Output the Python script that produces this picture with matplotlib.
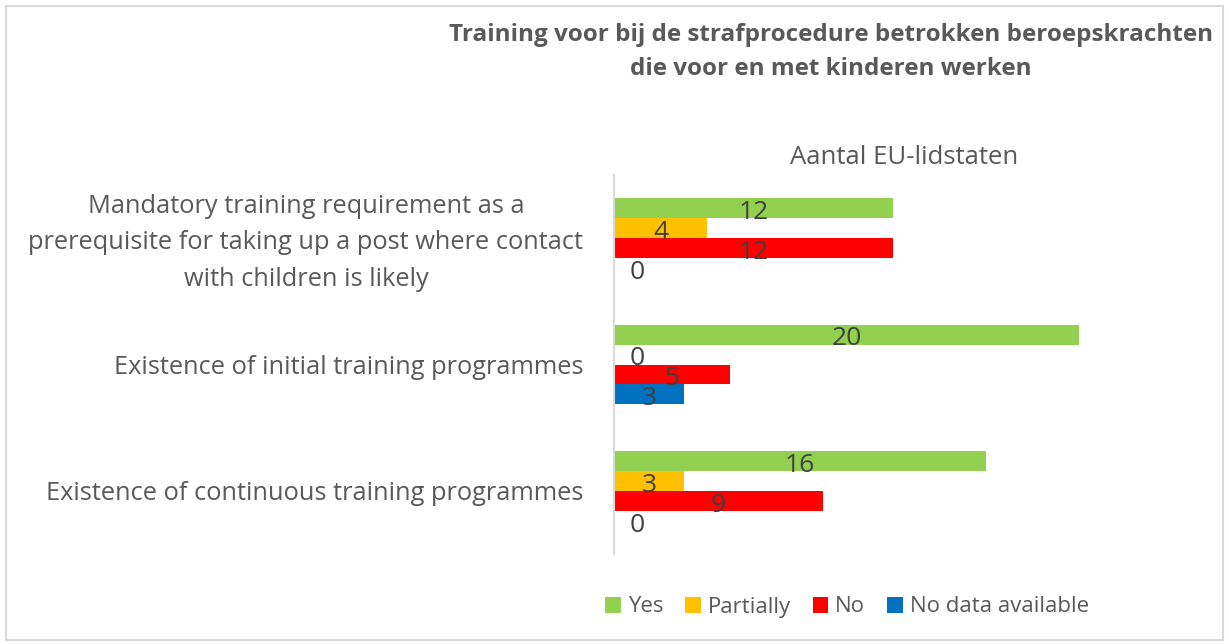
import matplotlib
matplotlib.use("Agg")
import matplotlib.pyplot as plt
from matplotlib.patches import Rectangle, Patch
import matplotlib.transforms as mtransforms
import numpy as np

categories = [
    "Mandatory training requirement as a\nprerequisite for taking up a post where contact\nwith children is likely",
    "Existence of initial training programmes",
    "Existence of continuous training programmes",
]
series_names = ["Yes", "Partially", "No", "No data available"]
yes = [12, 20, 16]
partially = [4, 0, 3]
no = [12, 5, 9]
no_data = [0, 3, 0]
colors = ["#92D050", "#FFC000", "#FF0000", "#0070C0"]
title = "Training voor bij de strafprocedure betrokken beroepskrachten\ndie voor en met kinderen werken"
axis_title = "Aantal EU-lidstaten"

W, H = 1229, 644
fig = plt.figure(figsize=(W / 100, H / 100), dpi=100)
plt.rcParams['font.family'] = ['Open Sans', 'DejaVu Sans']

# outer border
fig.patches.append(Rectangle((6 / W, 4 / H), 1217 / W, 634 / H, transform=fig.transFigure,
                             fill=False, edgecolor="#D9D9D9", linewidth=1.5))

xmax = 25
ax = fig.add_axes([614 / W, 1 - 554 / H, (23.25 * xmax) / W, 379 / H])
series = [yes, partially, no, no_data]
bh = 0.158
y = np.arange(len(categories))
for i, (vals, c) in enumerate(zip(series, colors)):
    pos = y - 1.5 * bh + i * bh
    ax.barh(pos, vals, height=bh, color=c, edgecolor="none", label=series_names[i])
    for p, v in zip(pos, vals):
        lx = v / 2 if v > 0 else 1.0
        ax.text(lx, p + 0.035, str(v), ha="center", va="center", fontsize=19,
                color="#404040")

ax.set_xlim(0, xmax)
ax.set_ylim(2.5, -0.5)
ax.set_yticks(y)
ax.set_yticklabels(categories, fontsize=18.3, color="#595959", multialignment="center",
                   linespacing=1.6)
ax.tick_params(axis="y", length=0, pad=22)
ax.set_xticks([])
# nudge the multi-line label up slightly
lbl = ax.get_yticklabels()[0]
lbl.set_transform(lbl.get_transform() + mtransforms.ScaledTranslation(0, 4 / 100, fig.dpi_scale_trans))
for s in ["top", "right", "bottom"]:
    ax.spines[s].set_visible(False)
ax.spines["left"].set_color("#D9D9D9")
ax.spines["left"].set_linewidth(1.5)

fig.text(904 / W, 1 - 157 / H, axis_title, ha="center", va="center", fontsize=18.5,
         color="#595959")
fig.text(831 / W, 1 - 52 / H, title, ha="center", va="center", fontsize=17.5,
         fontweight="bold", color="#595959", linespacing=1.6)

handles = [Patch(facecolor=c, edgecolor="none") for c in colors]
fig.legend(handles, series_names, loc="center", bbox_to_anchor=(847 / W, 1 - 607 / H),
           ncol=4, frameon=False, fontsize=16, handlelength=0.7, handleheight=0.7,
           handletextpad=0.3, columnspacing=1.0, labelcolor="#595959")

fig.savefig("out.png", dpi=100)
